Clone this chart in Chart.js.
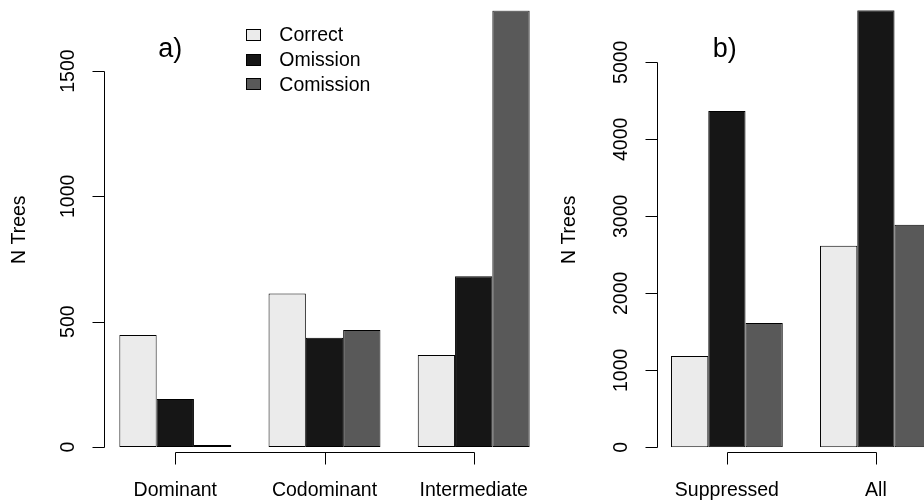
<!DOCTYPE html>
<html>
<head>
<meta charset="utf-8">
<script src="https://cdn.jsdelivr.net/npm/chart.js@4.4.1/dist/chart.umd.min.js"></script>
<style>
  html, body { margin: 0; padding: 0; background: #ffffff; overflow: hidden; width: 924px; height: 501px; }
  canvas { position: absolute; left: 0; top: 0; }
</style>
</head>
<body>
<canvas id="chartA" width="924" height="501" style="width:924px;height:501px"></canvas>
<canvas id="chartB" width="1000" height="501" style="width:1000px;height:501px"></canvas>
<script>
// ─── Data ───────────────────────────────────────────────────────────────────
const seriesNames  = ["Correct", "Omission", "Comission"];
const seriesColors = ["#ebebeb", "#161616", "#595959"];

// a) crown classes
const classesA   = ["Dominant", "Codominant", "Intermediate"];
const correctA   = [447, 612, 367];
const omissionA  = [192, 436, 681];
const comissionA = [2, 467, 1742];
const ticksA     = [0, 500, 1000, 1500];

// b) suppressed and all trees
const classesB   = ["Suppressed", "All"];
const correctB   = [1186, 2618];
const omissionB  = [4367, 5675];
const comissionB = [1614, 2891];
const ticksB     = [0, 1000, 2000, 3000, 4000, 5000];

const FONT = '"Liberation Sans", Arial, Helvetica, sans-serif';

// ─── R-style axes, labels and legend ────────────────────────────────────────
const rStyle = {
    id: "rStyle",
    afterDraw(chart, args, opts) {
        const ctx = chart.ctx;
        const xs = chart.scales.x;
        const ys = chart.scales.y;
        const area = chart.chartArea;
        const ticks = opts.yTicks;

        ctx.save();
        ctx.strokeStyle = "#000";
        ctx.fillStyle = "#000";
        ctx.lineWidth = 1;

        // y axis: line spans first to last tick
        const ax = Math.round(area.left + opts.axisGap) + 0.5;
        ctx.beginPath();
        ctx.moveTo(ax, Math.round(ys.getPixelForValue(ticks[0])) + 0.5);
        ctx.lineTo(ax, Math.round(ys.getPixelForValue(ticks[ticks.length - 1])) + 0.5);
        ticks.forEach(t => {
            const py = Math.round(ys.getPixelForValue(t)) + 0.5;
            ctx.moveTo(ax, py);
            ctx.lineTo(ax - 12, py);
        });
        ctx.stroke();

        ctx.font = "19.5px " + FONT;
        ctx.textAlign = "center";
        ctx.textBaseline = "middle";
        ticks.forEach(t => {
            ctx.save();
            ctx.translate(ax - 35.5, ys.getPixelForValue(t));
            ctx.rotate(-Math.PI / 2);
            ctx.fillText(String(t), 0, 0);
            ctx.restore();
        });

        // axis title
        ctx.save();
        ctx.translate(opts.titleX, (area.top + area.bottom) / 2 + 1);
        ctx.rotate(-Math.PI / 2);
        ctx.fillText(opts.title, 0, 0);
        ctx.restore();

        // group bracket under the bars
        const labels = chart.data.labels;
        const by = Math.round(area.bottom + 4.5) + 0.5;
        const first = Math.round(xs.getPixelForValue(0)) + 0.5;
        const last = Math.round(xs.getPixelForValue(labels.length - 1)) + 0.5;
        ctx.beginPath();
        ctx.moveTo(first, by);
        ctx.lineTo(last, by);
        labels.forEach((lab, i) => {
            const px = Math.round(xs.getPixelForValue(i)) + 0.5;
            ctx.moveTo(px, by);
            ctx.lineTo(px, by + 12);
        });
        ctx.stroke();

        ctx.textBaseline = "alphabetic";
        labels.forEach((lab, i) => {
            ctx.fillText(lab, xs.getPixelForValue(i), 496);
        });

        // panel tag
        ctx.font = "27px " + FONT;
        ctx.textAlign = "left";
        ctx.fillText(opts.tag, opts.tagX, 57);

        // legend
        if (opts.legend) {
            ctx.font = "19.5px " + FONT;
            ctx.textBaseline = "middle";
            chart.data.datasets.forEach((ds, i) => {
                const top = 29 + i * 24.6;
                ctx.fillStyle = ds.backgroundColor;
                ctx.fillRect(246, Math.round(top), 15, 12);
                ctx.strokeRect(246.5, Math.round(top) + 0.5, 14, 11);
                ctx.fillStyle = "#000";
                ctx.fillText(ds.label, 279.3, top + 7);
            });
        }
        ctx.restore();
    }
};

function makeDatasets(values) {
    return seriesNames.map((name, i) => ({
        label: name,
        data: values[i],
        backgroundColor: seriesColors[i],
        borderColor: "#000000",
        borderWidth: 1,
        borderSkipped: false,
        minBarLength: 2,
        categoryPercentage: 0.75,
        barPercentage: 1.0,
    }));
}

function makeChart(canvasId, labels, values, padding, plotOpts) {
    const top = Math.max(...values.flat());
    return new Chart(document.getElementById(canvasId), {
        type: "bar",
        data: { labels: labels, datasets: makeDatasets(values) },
        options: {
            responsive: false,
            animation: false,
            events: [],
            layout: { padding: padding },
            plugins: {
                legend: { display: false },
                tooltip: { enabled: false },
                rStyle: plotOpts,
            },
            scales: {
                x: { type: "category", display: false, offset: true },
                y: { type: "linear", display: false, min: 0, max: top },
            },
        },
        plugins: [rStyle],
    });
}

makeChart("chartA", classesA, [correctA, omissionA, comissionA],
    { left: 100.7, right: 375.7, top: 10.4, bottom: 54 },
    { yTicks: ticksA, axisGap: 3, title: "N Trees", titleX: 20, tag: "a)", tagX: 158.3, legend: true });

makeChart("chartB", classesB, [correctB, omissionB, comissionB],
    { left: 652.4, right: 49.6, top: 10.3, bottom: 53.7 },
    { yTicks: ticksB, axisGap: 4.3, title: "N Trees", titleX: 570, tag: "b)", tagX: 712.7, legend: false });
</script>
</body>
</html>
